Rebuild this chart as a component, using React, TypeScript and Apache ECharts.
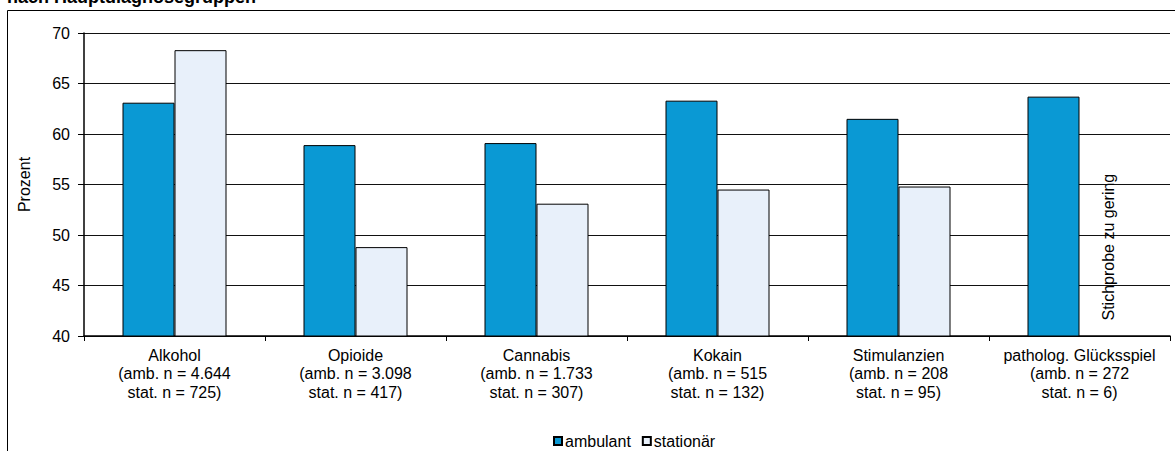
import React, { useEffect, useRef } from "react";
import * as echarts from "echarts";

// Hauptdiagnosegruppen
const categories = [
  "Alkohol",
  "Opioide",
  "Cannabis",
  "Kokain",
  "Stimulanzien",
  "patholog. Glücksspiel",
];
const nAmbulant = ["4.644", "3.098", "1.733", "515", "208", "272"];
const nStationaer = ["725", "417", "307", "132", "95", "6"];

// Prozent
const ambulant = [63.1, 58.9, 59.1, 63.3, 61.5, 63.7];
const stationaer: (number | null)[] = [68.3, 48.8, 53.1, 54.5, 54.8, null];

const yTicks = { min: 40, max: 70, interval: 5 };

const FONT = "'Liberation Sans', Arial, sans-serif";

export default function App() {
  const ref = useRef<HTMLDivElement>(null);

  useEffect(() => {
    if (!ref.current) return;
    const chart = echarts.init(ref.current, undefined, { renderer: "svg" });

    const labels = categories.map(
      (c, i) => `${c}\n(amb. n = ${nAmbulant[i]}\nstat. n = ${nStationaer[i]})`
    );

    chart.setOption({
      animation: false,
      textStyle: { fontFamily: FONT, color: "#000" },
      grid: { left: 84, right: 5, top: 33, bottom: 115, containLabel: false },
      legend: {
        left: 548,
        top: 428,
        itemWidth: 8,
        itemHeight: 8,
        itemGap: 11,
        icon: "rect",
        textStyle: { fontFamily: FONT, fontSize: 16, color: "#000", padding: [0, 0, 0, -2] },
        data: ["ambulant", "stationär"],
      },
      xAxis: {
        type: "category",
        data: labels,
        axisLine: { lineStyle: { color: "#000", width: 1.5 } },
        axisTick: { show: true, length: 5, lineStyle: { color: "#000" } },
        axisLabel: {
          interval: 0,
          margin: 10,
          fontSize: 16,
          lineHeight: 18.5,
          color: "#000",
          fontFamily: FONT,
        },
      },
      yAxis: {
        type: "value",
        min: yTicks.min,
        max: yTicks.max,
        interval: yTicks.interval,
        name: "Prozent",
        nameLocation: "middle",
        nameGap: 52,
        nameRotate: 90,
        nameTextStyle: { fontSize: 16, color: "#000", fontFamily: FONT },
        axisLine: { show: true, lineStyle: { color: "#000", width: 1.5 } },
        axisTick: { show: true, length: 6, lineStyle: { color: "#000" } },
        axisLabel: { fontSize: 16, color: "#000", margin: 14, fontFamily: FONT },
        splitLine: { show: true, lineStyle: { color: "#111", width: 1 } },
      },
      series: [
        {
          name: "ambulant",
          type: "bar",
          data: ambulant,
          barWidth: 52,
          barGap: "0%",
          itemStyle: { color: "#0A99D4", borderColor: "#000", borderWidth: 1 },
        },
        {
          name: "stationär",
          type: "bar",
          data: stationaer,
          barWidth: 52,
          barGap: "0%",
          itemStyle: { color: "#E8F0FA", borderColor: "#000", borderWidth: 1 },
        },
      ],
    });

    // note in the empty stationär slot of the last group
    const last = categories.length - 1;
    const cx = chart.convertToPixel({ xAxisIndex: 0 }, last) as number;
    const cy = chart.convertToPixel({ yAxisIndex: 0 }, 48.8) as number;

    chart.setOption({
      graphic: [
        {
          type: "rect",
          silent: true,
          shape: { x: 7.5, y: 10.5, width: 1300, height: 600 },
          style: { fill: "none", stroke: "#000", lineWidth: 1 },
          z: -1,
        },
        {
          type: "text",
          x: 7,
          y: -3,
          style: {
            text: "nach Hauptdiagnosegruppen",
            font: `bold 18px ${FONT}`,
            fill: "#000",
            verticalAlign: "middle",
          },
        },
        {
          type: "text",
          x: cx + 28.5,
          y: cy,
          rotation: Math.PI / 2,
          style: {
            text: "Stichprobe zu gering",
            font: `16px ${FONT}`,
            fill: "#000",
            align: "center",
            verticalAlign: "middle",
          },
          z: 10,
        },
      ],
    });

    return () => chart.dispose();
  }, []);

  return (
    <div
      ref={ref}
      style={{ position: "absolute", left: 0, top: 0, width: 1175, height: 451 }}
    />
  );
}
